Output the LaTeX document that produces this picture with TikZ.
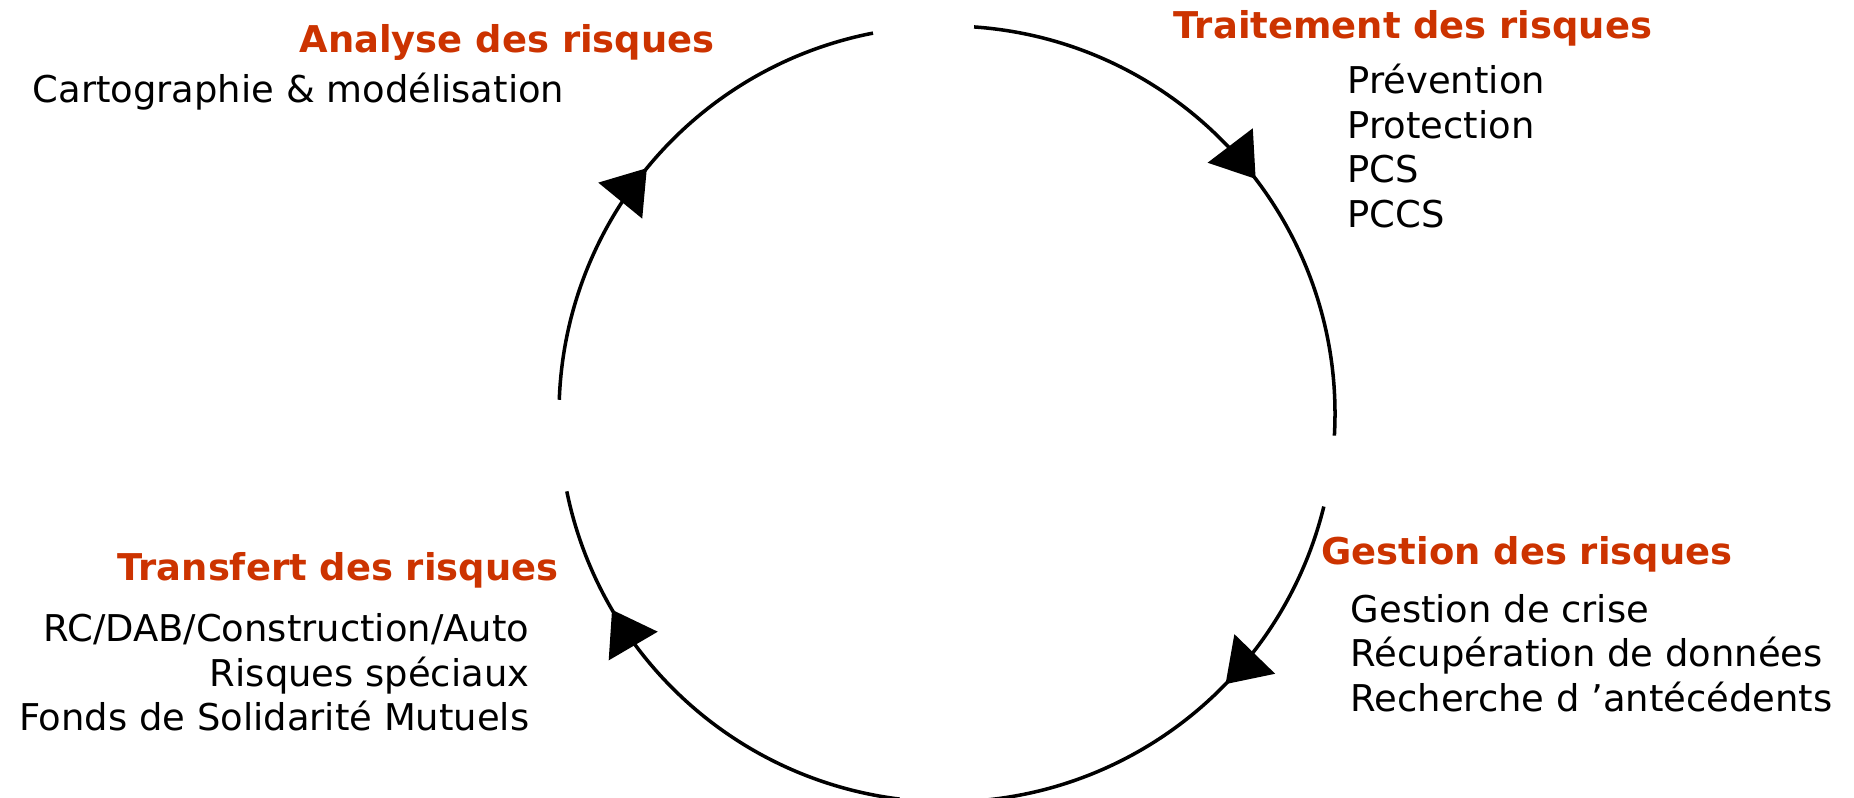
\documentclass[tikz,border=0pt]{standalone}
\usepackage{fontspec}
\setmainfont{DejaVu Sans}
\usepackage{tikz}
\usetikzlibrary{arrows.meta,decorations.markings}

\definecolor{riskred}{RGB}{204,51,0}

\begin{document}
\begin{tikzpicture}[
  font=\fontsize{10.5}{12.7}\selectfont,
  head/.style={font=\fontsize{10.5}{12.7}\selectfont\bfseries, text=riskred, inner sep=0pt},
  items/.style={inner sep=0pt},
  cyc/.style={line width=1pt},
  tipat/.style={postaction={decorate}, decoration={markings,
    mark=at position #1 with {\arrow{Triangle[length=4.2mm, width=5.6mm]}}}},
]
  \useasboundingbox (0,0) rectangle (18.54,7.97);
  \coordinate (c) at (9.47,3.83);
  \def\rad{3.88}

  \foreach \a/\e/\p in {177.9/101.0/0.484, 86.0/-3.2/0.546, -13.8/-86/0.42, 263/191.5/0.737} {
    \draw[cyc, tipat=\p] ([shift={(\a:\rad)}]c) arc[start angle=\a, end angle=\e, radius=\rad];
  }

  \node[head] (analyse) at (5.07,7.55) {Analyse des risques};
  \node[items, anchor=west] (carto) at (0.32,7.05) {Cartographie \& modélisation};

  \node[head] (traitement) at (14.13,7.69) {Traitement des risques};
  \node[items, anchor=west, align=left] (prev) at (13.47,6.51)
    {Prévention\\Protection\\PCS\\PCCS};

  \node[head] (gestion) at (15.27,2.43) {Gestion des risques};
  \node[items, anchor=west, align=left] (crise) at (13.50,1.44)
    {Gestion de crise\\Récupération de données\\Recherche d ’antécédents};

  \node[head] (transfert) at (3.38,2.27) {Transfert des risques};
  \node[items, anchor=east, align=right] (rc) at (5.30,1.245)
    {RC/DAB/Construction/Auto\\Risques spéciaux\\Fonds de Solidarité Mutuels};
\end{tikzpicture}
\end{document}
